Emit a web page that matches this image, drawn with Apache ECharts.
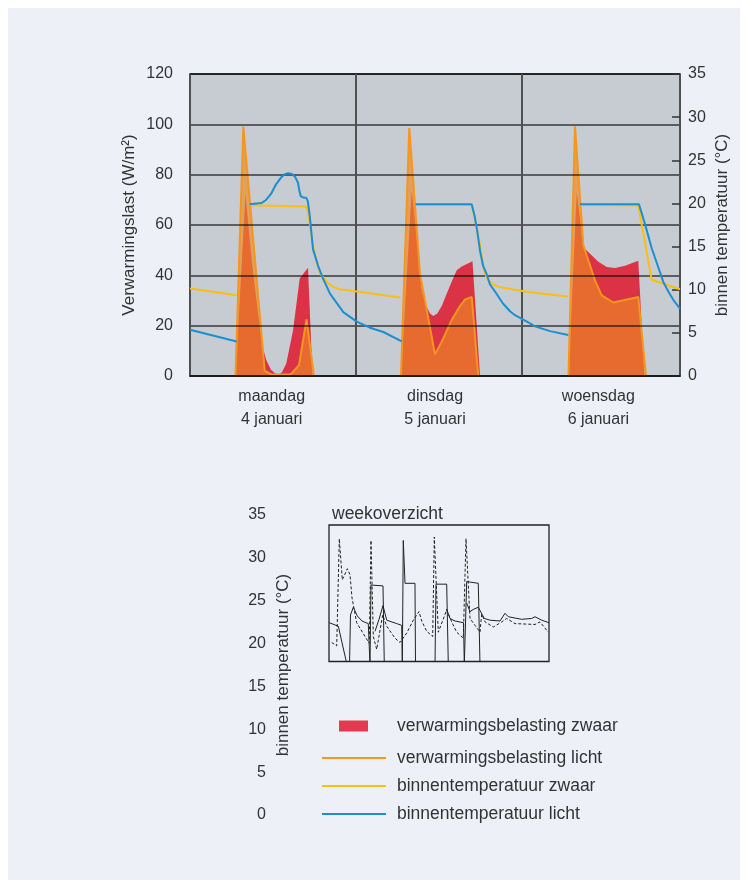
<!DOCTYPE html>
<html><head><meta charset="utf-8">
<script src="https://cdn.jsdelivr.net/npm/echarts@6/dist/echarts.min.js"></script>
<style>
html,body{margin:0;padding:0;background:#fff;}
#panel{position:absolute;left:8px;top:8px;width:732px;height:872px;background:#edf0f7;}
#chart{position:absolute;left:0;top:0;width:747px;height:885px;}
</style></head><body>
<div id="panel"></div><div id="chart"></div>
<script>
// Categories (days) for the main chart
const dayLabels = ['maandag\n4 januari', 'dinsdag\n5 januari', 'woensdag\n6 januari'];

// Heating load, heavy building (W/m2) : [hour, value]
const loadHeavy = [[6.58,0],[8.02,72],[8.96,45],[9.83,25],[10.55,11],[11.03,6.3],[11.71,2.5],[12.25,1.2],[12.72,0.3],[13.30,1.5],[13.92,5],[14.89,18],[15.86,38.7],[17.06,43],[17.71,0],[18.5,null],
  [30.50,0],[32.05,73.7],[32.96,50],[33.50,34],[34.12,28],[34.70,24.8],[35.17,23.8],[35.75,24.8],[36.43,28],[37.11,32.7],[37.83,37.5],[38.56,42],[39.28,43.5],[40.84,45.6],[41.93,0],[42.5,null],
  [54.72,0],[55.91,73],[56.86,51.2],[57.83,48.6],[58.99,45.5],[60.24,43.3],[61.44,42.9],[62.89,43.8],[64.81,45.8],[65.68,0]];

// Heating load, light building (W/m2)
const loadLight = [[6.58,0],[7.71,99],[10.80,2],[11.78,0.6],[14.53,0.6],[15.76,4.3],[16.84,22.5],[17.93,0],[18.5,null],
  [30.50,0],[31.70,98.5],[33.25,40.7],[35.42,8.6],[36.39,13.6],[37.83,22.2],[39.03,27.8],[39.76,30.4],[40.73,31.4],[41.68,0],[42.5,null],
  [54.72,0],[55.66,99.2],[56.86,51.9],[57.83,44],[58.55,38],[59.52,32],[61.20,29.2],[64.81,31.4],[65.92,0]];

// Indoor temperature, heavy building (deg C)
const tempHeavy = [[0,10.15],[6.75,9.35],[7.5,null],[8.63,19.8],[16.80,19.65],[17.10,18.8],[17.83,14.9],[18.79,11.9],[19.76,10.9],[20.72,10.3],[21.69,10.05],[26.02,9.6],[30.36,9.1],[31.5,null],
  [32.60,19.85],[40.73,19.85],[41.45,17.2],[41.93,15.2],[42.40,12.6],[42.94,11.3],[43.37,10.9],[44.10,10.5],[44.82,10.3],[46.99,10.0],[49.15,9.7],[54.65,9.2],[55.5,null],
  [56.38,19.85],[64.81,19.75],[66.75,11.15],[70.84,10.05]];

// Indoor temperature, light building (deg C)
const tempLight = [[0,5.35],[6.75,4.0],[7.5,null],[8.63,19.9],[10.34,20.05],[10.99,20.4],[11.71,21.1],[12.43,22.2],[13.16,23.0],[13.73,23.4],[14.17,23.5],[14.75,23.4],[15.18,23.1],[15.61,22.4],[15.83,21.4],[16.00,20.85],[16.34,20.7],[16.81,20.65],[17.02,20.3],[17.31,18.6],[17.78,14.7],[18.50,12.8],[19.23,11.3],[20.24,9.55],[22.16,7.4],[24.10,6.3],[26.02,5.6],[27.95,5.1],[30.61,4.0],[31.5,null],
  [32.60,19.9],[40.73,19.9],[41.13,18.6],[41.49,17.0],[41.93,14.5],[42.36,12.8],[42.89,11.8],[43.37,10.6],[44.34,9.5],[45.25,8.4],[46.26,7.5],[46.99,7.05],[49.15,6.1],[49.88,5.75],[52.05,5.2],[54.69,4.75],[55.5,null],
  [56.38,19.9],[64.91,19.9],[65.78,17.6],[66.75,14.8],[67.70,12.6],[68.43,10.9],[69.15,9.8],[69.97,8.7],[70.84,7.8]];

// Week overview (inset), hours 0..166, deg C
const weekSolid = [[0.23,22.4],[7.02,22.0],[13.58,17.5],[15.47,17.5],[16.22,23.3],[18.34,24.2],[21.35,23.2],[24.90,22.6],[29.65,22.3],[30.94,17.5],[31.69,26.8],[40.75,26.7],[41.73,17.5],[42.5,null],
  [34.71,21.4],[37.73,22.8],[40.75,24.4],[43.54,22.7],[51.08,22.3],[54.86,22.1],[55.31,17.5],[56.06,32.0],[57.35,27.0],[64.89,27.0],[65.27,17.5],[66,null],
  [79.98,17.5],[80.74,26.9],[88.81,26.9],[90.02,17.5],[90.5,null],
  [88.66,24.0],[91.30,22.9],[95.07,22.6],[101.49,22.4],[102.09,17.5],[103.37,17.5],[103.90,27.2],[112.65,27.0],[113.93,17.5],[114.5,null],
  [103.90,24.7],[106.39,23.7],[109.41,24.0],[112.65,24.2],[117.18,22.9],[121.48,22.7],[129.03,22.6],[132.80,23.5],[135.29,23.1],[145.40,22.8],[152.95,22.9],[155.44,23.1],[160.49,22.7],[166,22.4]];

const weekDashed = [[2.04,20.1],[5.81,19.7],[7.77,32.2],[10.04,27.4],[13.81,28.7],[15.85,28.0],[17.35,25.3],[20.90,22.4],[27.16,20.8],[30.41,20.0],[31.69,32.0],[33.43,20.8],[35.99,19.3],[40.52,23.3],[43.54,22.0],[49.80,20.6],[53.57,20.1],[58.63,21.2],[63.61,22.7],[67.91,23.7],[69.95,22.6],[73.72,21.4],[78.25,20.8],[79.45,32.4],[82.47,21.3],[88.81,23.9],[92.58,22.5],[96.36,21.3],[101.34,20.6],[103.37,32.2],[106.39,22.9],[110.16,22.1],[113.93,21.3],[115.22,23.4],[117.71,22.5],[123.97,21.9],[130.31,22.5],[134.08,22.9],[140.35,22.3],[155.44,22.2],[159.21,22.5],[165.47,21.3]];

const FONT = '"Liberation Sans", Arial, sans-serif';
const TXT = '#333';

const chart = echarts.init(document.getElementById('chart'), null, {renderer:'canvas'});
chart.setOption({
  animation: false,
  textStyle: {fontFamily: FONT, color: TXT},
  title: {text: 'weekoverzicht', left: 332, top: 505, padding: 0,
    textStyle: {fontSize: 17.5, fontWeight: 'normal', color: TXT, fontFamily: FONT}},
  legend: [
    {data: ['verwarmingsbelasting zwaar'], left: 334, top: 712, orient: 'vertical', icon: 'rect',
     itemWidth: 29, itemHeight: 11, selectedMode: false,
     textStyle: {fontSize: 17.5, color: TXT, lineHeight: 18, padding: [0,0,0,24]}},
    {data: ['verwarmingsbelasting licht','binnentemperatuur zwaar','binnentemperatuur licht'],
     left: 317, top: 744, orient: 'vertical', icon: 'rect', itemWidth: 64, itemHeight: 2, itemGap: 10,
     selectedMode: false, textStyle: {fontSize: 17.5, color: TXT, lineHeight: 18, padding: [0,0,0,6]}}
  ],
  grid: [
    {left: 190, top: 74, width: 490, height: 302, show: true, backgroundColor: '#c7cbd2', borderColor: '#222', borderWidth: 1.5},
    {left: 329, top: 525, width: 220, height: 136.5, show: true, backgroundColor: 'transparent', borderColor: '#222', borderWidth: 1.3},
    {left: 300, top: 515, width: 1, height: 300, show: false}
  ],
  xAxis: [
    {type: 'value', gridIndex: 0, position: 'top', min: 0, max: 70.84, interval: 24,
     axisLine: {show: false}, axisTick: {show: false}, axisLabel: {show: false},
     splitLine: {show: true, lineStyle: {color: '#505050', width: 2}}, z: 3},
    {type: 'category', gridIndex: 0, position: 'bottom', data: dayLabels, boundaryGap: true,
     axisLine: {show: true, lineStyle: {color: '#1a1a1a', width: 1.5}}, axisTick: {show: false},
     axisLabel: {margin: 9, fontSize: 16, lineHeight: 23, color: TXT}, z: 5},
    {type: 'value', gridIndex: 1, min: 0, max: 166, show: false},
    {type: 'value', gridIndex: 2, show: false}
  ],
  yAxis: [
    {type: 'value', gridIndex: 0, position: 'left', min: 0, max: 120, interval: 20,
     axisLine: {show: false}, axisTick: {show: false},
     axisLabel: {margin: 17, fontSize: 16, color: TXT},
     splitLine: {lineStyle: {color: 'rgba(0,0,0,0.72)', width: 1.5}},
     name: 'Verwarmingslast (W/m²)', nameLocation: 'middle', nameRotate: 90, nameGap: 52, nameMoveOverlap: false,
     nameTextStyle: {fontSize: 17, color: TXT}, z: 3},
    {type: 'value', gridIndex: 0, position: 'right', min: 0, max: 35, interval: 5,
     axisLine: {show: false}, axisTick: {show: true, inside: true, length: 8, lineStyle: {color: '#333', width: 1.5}},
     axisLabel: {margin: 8, fontSize: 16, color: TXT}, splitLine: {show: false},
     name: 'binnen temperatuur (°C)', nameLocation: 'middle', nameRotate: 90, nameGap: 34, nameMoveOverlap: false,
     nameTextStyle: {fontSize: 17, color: TXT}, z: 3},
    {type: 'value', gridIndex: 1, min: 17.88, max: 33.8, show: false},
    {type: 'value', gridIndex: 2, min: 0, max: 35, interval: 5,
     axisLine: {show: false}, axisTick: {show: false}, splitLine: {show: false},
     axisLabel: {margin: 34, fontSize: 16, color: TXT},
     name: 'binnen temperatuur (°C)', nameLocation: 'middle', nameRotate: 90, nameGap: 8, nameMoveOverlap: false,
     nameTextStyle: {fontSize: 17, color: TXT}}
  ],
  series: [
    {name: 'verwarmingsbelasting zwaar', type: 'line', xAxisIndex: 0, yAxisIndex: 0, data: loadHeavy,
     symbol: 'none', lineStyle: {width: 0}, itemStyle: {color: '#e23b50'},
     areaStyle: {color: '#db3246', opacity: 1}, z: 2},
    {name: 'verwarmingsbelasting licht', type: 'line', xAxisIndex: 0, yAxisIndex: 0, data: loadLight,
     symbol: 'none', lineStyle: {color: '#f5961d', width: 2}, itemStyle: {color: '#f5961d'},
     areaStyle: {color: '#ee8824', opacity: 0.65}, z: 2},
    {name: 'binnentemperatuur zwaar', type: 'line', xAxisIndex: 0, yAxisIndex: 1, data: tempHeavy,
     symbol: 'none', lineStyle: {color: '#fbbf10', width: 2}, itemStyle: {color: '#fbbf10'}, z: 4},
    {name: 'binnentemperatuur licht', type: 'line', xAxisIndex: 0, yAxisIndex: 1, data: tempLight,
     symbol: 'none', lineStyle: {color: '#1b8fcf', width: 2}, itemStyle: {color: '#1b8fcf'}, z: 4},
    {name: 'weekoverzicht zwaar', type: 'line', xAxisIndex: 2, yAxisIndex: 2, data: weekSolid,
     symbol: 'none', lineStyle: {color: '#222', width: 1}},
    {name: 'weekoverzicht licht', type: 'line', xAxisIndex: 2, yAxisIndex: 2, data: weekDashed,
     symbol: 'none', lineStyle: {color: '#222', width: 1, type: [3, 2]}}
  ]
});
</script>
</body></html>
